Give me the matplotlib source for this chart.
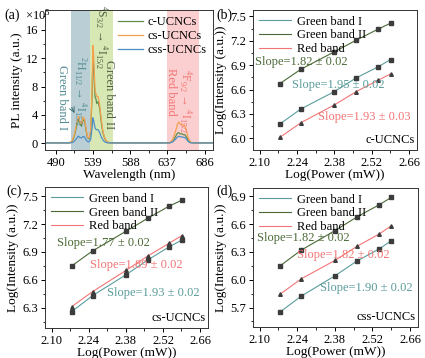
import numpy as np
import matplotlib
matplotlib.use('Agg')
import matplotlib.pyplot as plt
from matplotlib.ticker import AutoMinorLocator, MultipleLocator

plt.rcParams['font.family'] = ['Liberation Serif', 'DejaVu Serif']
plt.rcParams['mathtext.fontset'] = 'custom'
plt.rcParams['mathtext.rm'] = 'Liberation Serif'
plt.rcParams['mathtext.it'] = 'Liberation Serif:italic'
plt.rcParams['font.size'] = 9

# ---- (a) PL spectra (intensity x 1e5) ----
wavelength = [478, 508, 512, 515, 518, 520, 522, 524, 526, 528, 530, 532, 534, 536,
              538, 539, 540, 541, 542, 543, 544, 546, 548, 550, 552, 554, 556, 558,
              560, 562, 640, 644, 648, 650, 652, 654, 656, 658, 660, 662, 664, 666,
              668, 672, 697]
pl_c = [0.05, 0.05, 0.3, 1.2, 2.6, 3.4, 2.8, 2.4, 3.3, 3.2, 1.8, 0.8, 0.6, 1.5,
        7.0, 12.3, 11.0, 8.0, 6.5, 6.3, 5.6, 5.9, 4.8, 3.0, 1.6, 0.8, 0.4, 0.2,
        0.1, 0.05, 0.05, 0.3, 1.0, 1.4, 1.5, 1.3, 1.35, 1.2, 1.2, 0.9, 0.5, 0.2,
        0.1, 0.05, 0.05]
pl_cs = [0.05, 0.05, 0.35, 1.4, 3.0, 3.8, 3.0, 2.7, 3.7, 3.5, 2.0, 0.9, 0.7, 1.8,
         8.0, 13.8, 12.5, 9.5, 7.4, 7.0, 6.6, 6.6, 5.3, 3.4, 1.8, 0.9, 0.45, 0.2,
         0.1, 0.05, 0.05, 0.5, 1.8, 2.6, 3.0, 2.7, 2.6, 2.6, 2.4, 1.8, 0.9, 0.35,
         0.15, 0.05, 0.05]
pl_css = [0.05, 0.05, 0.1, 0.35, 0.75, 1.0, 0.8, 0.75, 0.95, 0.9, 0.5, 0.25, 0.2, 0.5,
          2.2, 3.6, 3.2, 2.6, 2.1, 2.0, 1.9, 1.9, 1.5, 0.9, 0.5, 0.25, 0.12, 0.06,
          0.05, 0.05, 0.05, 0.2, 0.6, 0.85, 1.0, 0.9, 0.9, 0.85, 0.8, 0.6, 0.3, 0.12,
          0.06, 0.05, 0.05]

# ---- (b)-(d) power dependence ----
log_power = [2.176, 2.255, 2.380, 2.462, 2.544, 2.591]

b_green1 = [6.177, 6.362, 6.575, 6.744, 6.880, 6.970]
b_green2 = [6.674, 6.851, 7.065, 7.208, 7.344, 7.418]
b_red = [6.012, 6.193, 6.411, 6.575, 6.715, 6.793]

c_green1 = [6.257, 6.430, 6.653, 6.812, 6.956, 7.028]
c_green2 = [6.750, 6.912, 7.122, 7.262, 7.395, 7.457]
c_red = [6.311, 6.473, 6.700, 6.855, 6.995, 7.075]

d_green1 = [5.653, 5.823, 6.042, 6.201, 6.331, 6.421]
d_green2 = [6.150, 6.320, 6.529, 6.677, 6.807, 6.889]
d_red = [5.844, 6.010, 6.208, 6.359, 6.492, 6.583]

slopes_b = ['Slope=1.82 ± 0.02', 'Slope=1.95 ± 0.02', 'Slope=1.93 ± 0.03']
slopes_c = ['Slope=1.77 ± 0.02', 'Slope=1.89 ± 0.02', 'Slope=1.93 ± 0.02']
slopes_d = ['Slope=1.82 ± 0.02', 'Slope=1.82 ± 0.02', 'Slope=1.90 ± 0.02']

col_g1 = '#5b9c9c'
col_g2 = '#4b6a36'
col_red = '#f27575'
col_mark = '#3c3c3c'

fig = plt.figure(figsize=(4.25, 3.58), dpi=100)
W, H = 425.0, 358.0


def box(l, r, t, b):
    return [l / W, 1 - b / H, (r - l) / W, (b - t) / H]


def style(ax):
    ax.tick_params(direction='out', length=3, width=0.7, labelsize=9, pad=2)
    ax.tick_params(which='minor', direction='out', length=1.8, width=0.6)
    ax.xaxis.set_minor_locator(AutoMinorLocator(2))
    ax.yaxis.set_minor_locator(AutoMinorLocator(2))
    for s in ax.spines.values():
        s.set_linewidth(0.7)
        s.set_color('#333333')


# ---------------- panel (a) ----------------
ax = fig.add_axes(box(45, 213, 10, 150))
ax.axvspan(509.6, 534.8, color='#b9ced5', lw=0)
ax.axvspan(534.8, 565.4, color='#d8e8b4', lw=0)
ax.axvspan(636, 678.6, color='#fbcfcf', lw=0)
ax.plot(wavelength, pl_c, color='#5e8f4a', lw=0.9, label='c-UCNCs')
ax.plot(wavelength, pl_cs, color='#f5a24f', lw=0.9, label='cs-UCNCs')
ax.plot(wavelength, pl_css, color='#4b8fc6', lw=0.9, label='css-UCNCs')
ax.set_xlim(476, 697)
ax.set_ylim(-0.95, 18.8)
ax.set_xticks([490, 539, 588, 637, 686])
ax.set_yticks([0, 4, 8, 12, 16])
style(ax)
ax.set_xlabel('Wavelength (nm)', fontsize=9.5, labelpad=0)
ax.set_ylabel('PL intensity (a.u.)', fontsize=9.5, labelpad=2)
ax.legend(loc='upper right', frameon=False, fontsize=9, handlelength=2.0,
          handletextpad=0.4, labelspacing=0.15, borderaxespad=0.1)
ax.text(499.0, 6.5, 'Green band I', rotation=270, color='#4f8a92', ha='center', va='center', fontsize=9)
ax.text(522.0, 7.3, r'$^2$H$_{11/2}$ → $^4$I$_{15/2}$', rotation=270, color='#4f8a92',
        ha='center', va='center', fontsize=8.5)
ax.annotate('', xy=(516.5, 3.9), xytext=(509.5, 5.4),
            arrowprops=dict(arrowstyle='->', color='#3d6d74', lw=0.7))
ax.text(550.5, 15.0, r'$^4$S$_{3/2}$ → $^4$I$_{15/2}$', rotation=270, color='#4e5f40',
        ha='center', va='center', fontsize=8.5)
ax.text(560.5, 6.9, 'Green band II', rotation=270, color='#4e5f40', ha='center', va='center', fontsize=9)
ax.text(641.5, 7.2, 'Red band', rotation=270, color=col_red, ha='center', va='center', fontsize=9)
ax.text(660.5, 5.9, r'$^4$F$_{9/2}$ → $^4$I$_{15/2}$', rotation=270, color=col_red,
        ha='center', va='center', fontsize=8.5)
fig.text(4 / W, 1 - 15 / H, '(a)', fontsize=10, va='center')
fig.text(25 / W, 1 - 15 / H, r'×10$^5$', fontsize=9, va='center')


# ---------------- panels (b)-(d) ----------------
def power_panel(rect, g1, g2, red, ylim, yticks, slopes, spos, tag, letter, lpos):
    ax = fig.add_axes(rect)
    ax.plot(log_power, g1, color=col_g1, lw=0.8, label='Green band I')
    ax.plot(log_power, g2, color=col_g2, lw=0.8, label='Green band II')
    ax.plot(log_power, red, color=col_red, lw=0.8, label='Red band')
    ax.plot(log_power, g1, ls='none', marker='s', ms=2.2, color=col_mark)
    ax.plot(log_power, g2, ls='none', marker='s', ms=2.2, color=col_mark)
    ax.plot(log_power, red, ls='none', marker='^', ms=2.6, color=col_mark)
    ax.set_xlim(2.075, 2.69)
    ax.set_ylim(*ylim)
    ax.set_xticks([2.10, 2.24, 2.38, 2.52, 2.66])
    ax.set_xticklabels(['2.10', '2.24', '2.38', '2.52', '2.66'])
    ax.set_yticks(yticks)
    ax.set_yticklabels(['%.1f' % v for v in yticks])
    style(ax)
    ax.set_xlabel('Log(Power (mW))', fontsize=9.5, labelpad=0)
    ax.set_ylabel('Log(Intensity (a.u.))', fontsize=9.5, labelpad=2)
    ax.legend(loc='upper left', frameon=False, fontsize=9, handlelength=2.6,
              handletextpad=0.5, labelspacing=0.15, borderaxespad=0.05)
    for txt, (x, y), c in zip(slopes, spos[:3], spos[3]):
        ax.text(x, y, txt, color=c, ha='center', va='center', fontsize=9)
    ax.text(0.985, 0.03, tag, transform=ax.transAxes, ha='right', va='bottom', fontsize=9)
    fig.text(lpos[0] / W, 1 - lpos[1] / H, letter, fontsize=10, va='center')


power_panel(box(253, 417, 10, 150), b_green1, b_green2, b_red, (5.856, 7.58),
            [6.0, 6.3, 6.6, 6.9, 7.2, 7.5], slopes_b,
            [(2.257, 6.944), (2.394, 6.657), (2.494, 6.266), [col_g2, col_g1, col_red]],
            'c-UCNCs', '(b)', (216, 15))
power_panel(box(45, 208, 187, 328), c_green1, c_green2, c_red, (6.08, 7.6),
            [6.3, 6.6, 6.9, 7.2, 7.5], slopes_c,
            [(2.294, 6.996), (2.420, 6.762), (2.484, 6.456), [col_g2, col_red, col_g1]],
            'cs-UCNCs', '(c)', (6, 191))
power_panel(box(253, 418, 188, 327), d_green1, d_green2, d_red, (5.49, 6.99),
            [5.7, 6.0, 6.3, 6.6, 6.9], slopes_d,
            [(2.262, 6.45), (2.411, 6.27), (2.498, 5.91), [col_g2, col_red, col_g1]],
            'css-UCNCs', '(d)', (216, 191))

fig.savefig('out.png', dpi=100)
